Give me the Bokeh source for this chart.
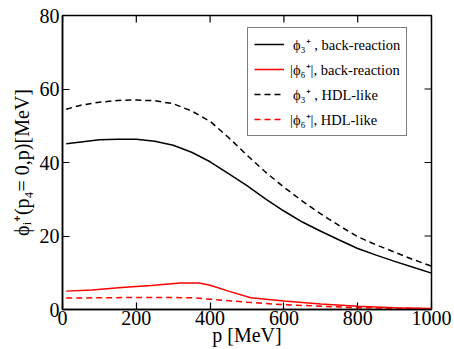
import math
from bokeh.plotting import figure
from bokeh.models import Range1d, Legend, LegendItem, FixedTicker
from bokeh.embed import file_html
from bokeh.resources import INLINE

# momentum grid [MeV]
p_vals = [10, 50, 100, 150, 200, 250, 300, 350, 400, 450, 500, 550, 600, 650, 700, 750, 800, 850, 900, 950, 1000]
phi3_back = [45.1, 45.6, 46.2, 46.3, 46.3, 45.8, 44.7, 42.8, 40.2, 37.0, 33.7, 30.1, 26.8, 23.8, 21.3, 18.9, 16.6, 14.8, 13.1, 11.5, 9.9]
phi3_hdl = [54.5, 55.6, 56.4, 56.9, 57.0, 56.8, 56.0, 54.0, 51.2, 46.8, 42.0, 37.4, 33.3, 29.5, 26.0, 22.8, 19.8, 17.6, 15.6, 13.6, 11.8]

p_red = [10, 80, 160, 240, 320, 370, 400, 450, 510, 600, 700, 800, 900, 1000]
phi6_back = [5.0, 5.3, 6.0, 6.5, 7.2, 7.2, 6.6, 5.0, 3.2, 2.3, 1.5, 0.9, 0.5, 0.3]
p_red2 = [10, 100, 250, 350, 400, 500, 600, 700, 800, 900, 1000]
phi6_hdl = [3.1, 3.2, 3.3, 3.2, 2.8, 2.0, 1.3, 0.9, 0.5, 0.3, 0.2]

labels = ["\u2009ϕ₃⁺ , back-reaction", "|ϕ₆⁺|, back-reaction", "\u2009ϕ₃⁺ , HDL-like", "|ϕ₆⁺|, HDL-like"]
x_ticks = [0, 200, 400, 600, 800, 1000]
y_ticks = [0, 20, 40, 60, 80]
x_min, x_max = 0, 1000
y_min, y_max = 0, 80

FONT = "Liberation Serif"

p = figure(width=454, height=349, output_backend="svg", toolbar_location=None,
           x_range=Range1d(x_min, x_max), y_range=Range1d(y_min, y_max),
           min_border_left=62, min_border_right=23, min_border_top=15, min_border_bottom=40)
p.background_fill_color = "white"
p.border_fill_color = "white"
p.xgrid.visible = False
p.ygrid.visible = False
p.outline_line_color = "black"
p.outline_line_width = 1.5

r1 = p.line(p_vals, phi3_back, line_color="black", line_width=1.5)
r2 = p.line(p_red, phi6_back, line_color="red", line_width=1.5)
r3 = p.line(p_vals, phi3_hdl, line_color="black", line_width=1.5, line_dash="6 4")
r4 = p.line(p_red2, phi6_hdl, line_color="red", line_width=1.5, line_dash="6 4")

# mirrored inward ticks on top and right edges
p.ray(x=x_ticks, y=[y_max] * len(x_ticks), length=7, length_units="screen",
      angle=-math.pi / 2, line_color="black", line_width=1.2)
p.ray(x=[x_max] * len(y_ticks), y=y_ticks, length=7, length_units="screen",
      angle=math.pi, line_color="black", line_width=1.2)

for ax in (p.xaxis[0], p.yaxis[0]):
    ax.major_tick_in = 7
    ax.major_tick_out = 0
    ax.minor_tick_in = 0
    ax.minor_tick_out = 0
    ax.axis_line_color = "black"
    ax.axis_line_width = 1.5
    ax.major_tick_line_color = "black"
    ax.major_tick_line_width = 1.2
    ax.major_label_text_font = FONT
    ax.major_label_text_font_size = "20px"
    ax.major_label_text_color = "black"
    ax.axis_label_text_font = FONT
    ax.axis_label_text_font_size = "20px"
    ax.axis_label_text_font_style = "normal"
    ax.axis_label_text_color = "black"

p.xaxis.ticker = FixedTicker(ticks=x_ticks)
p.yaxis.ticker = FixedTicker(ticks=y_ticks)
p.xaxis.axis_label = "p [MeV]"
p.yaxis.axis_label = "ϕᵢ⁺(p₄= 0,p)[MeV]"
p.xaxis.major_label_standoff = 1
p.xaxis.axis_label_standoff = -4
p.yaxis.major_label_standoff = 3
p.yaxis.axis_label_standoff = 4

legend = Legend(items=[LegendItem(label=labels[0], renderers=[r1]),
                       LegendItem(label=labels[1], renderers=[r2]),
                       LegendItem(label=labels[2], renderers=[r3]),
                       LegendItem(label=labels[3], renderers=[r4])],
                location=(185, 173))
legend.label_text_font = FONT
legend.label_text_font_size = "14.5px"
legend.label_text_color = "black"
legend.glyph_width = 30
legend.glyph_height = 18
legend.label_height = 18
legend.spacing = 5
legend.padding = 6
legend.margin = 0
legend.label_standoff = 6
legend.border_line_color = "black"
legend.border_line_width = 1.5
legend.background_fill_alpha = 1.0
p.add_layout(legend, "center")

open("out.html", "w").write(file_html(p, INLINE))
